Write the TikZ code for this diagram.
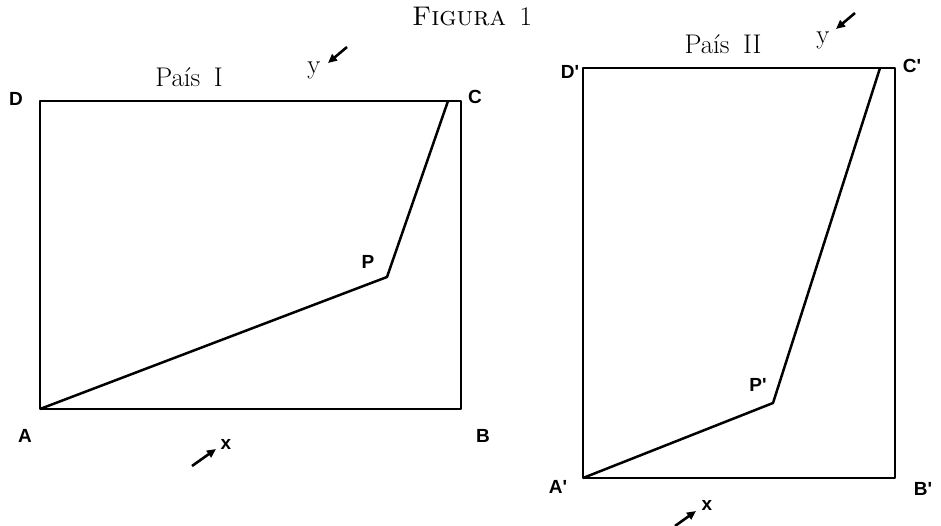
\documentclass[tikz,border=0pt]{standalone}
\usepackage{fontspec}
\newfontfamily\lblfont{Liberation Sans}
\usetikzlibrary{arrows.meta}
\begin{document}
\begin{tikzpicture}[x=1pt,y=-1pt,
  frame/.style={line width=2.8pt, line join=round},
  pathline/.style={line width=2.5pt, line join=round},
  lbl/.style={font=\lblfont\bfseries\fontsize{19}{19}\selectfont, inner sep=0pt},
  ttl/.style={font=\fontsize{27}{30}\selectfont, inner sep=0pt},
  axis/.style={font=\lblfont\bfseries\fontsize{19}{19}\selectfont, inner sep=0pt},
  arr/.style={line width=2.6pt, -{Triangle[length=9pt,width=8pt]}}]
\useasboundingbox (0,0) rectangle (941,526);
% title
\node[ttl] (title) at (472,17) {\textsc{Figura}\enspace 1};
% ---- Pais I
\coordinate (A) at (40,409);
\coordinate (B) at (461,409);
\coordinate (C) at (461,101);
\coordinate (D) at (40,101);
\coordinate (P) at (387,277);
\coordinate (Ct) at (448,101);
\draw[frame] (A) -- (B) -- (C) -- (D) -- cycle;
\draw[pathline] (A) -- (P) -- (Ct);
\node[lbl] (lA) at (25,436) {A};
\node[lbl] (lB) at (483,436) {B};
\node[lbl] (lC) at (475,97) {C};
\node[lbl] (lD) at (16,99) {D};
\node[lbl] (lP) at (368,262) {P};
\node[ttl] (t1) at (189,77) {País\enspace I};
\node[ttl] (y1) at (314,70) {y};
\coordinate (y1s) at (347,47);
\coordinate (y1e) at (328,63);
\draw[arr] (y1s) -- (y1e);
\node[axis] (x1) at (226,444) {x};
\coordinate (x1s) at (192,466);
\coordinate (x1e) at (216,449);
\draw[arr] (x1s) -- (x1e);
% ---- Pais II
\coordinate (A2) at (583,478);
\coordinate (B2) at (895,478);
\coordinate (C2) at (895,68);
\coordinate (D2) at (583,68);
\coordinate (P2) at (773,403);
\coordinate (C2t) at (880,68);
\draw[frame] (A2) -- (B2) -- (C2) -- (D2) -- cycle;
\draw[pathline] (A2) -- (P2) -- (C2t);
\node[lbl] (lA2) at (558,487) {A'};
\node[lbl] (lB2) at (923,489) {B'};
\node[lbl] (lC2) at (912,66) {C'};
\node[lbl] (lD2) at (570,72) {D'};
\node[lbl] (lP2) at (758,385) {P'};
\node[ttl] (t2) at (723,44) {País\enspace II};
\node[ttl] (y2) at (823,40) {y};
\coordinate (y2s) at (855,13);
\coordinate (y2e) at (836,29);
\draw[arr] (y2s) -- (y2e);
\node[axis] (x2) at (707,505) {x};
\coordinate (x2s) at (675,526);
\coordinate (x2e) at (696,511);
\draw[arr] (x2s) -- (x2e);
\end{tikzpicture}
\end{document}
